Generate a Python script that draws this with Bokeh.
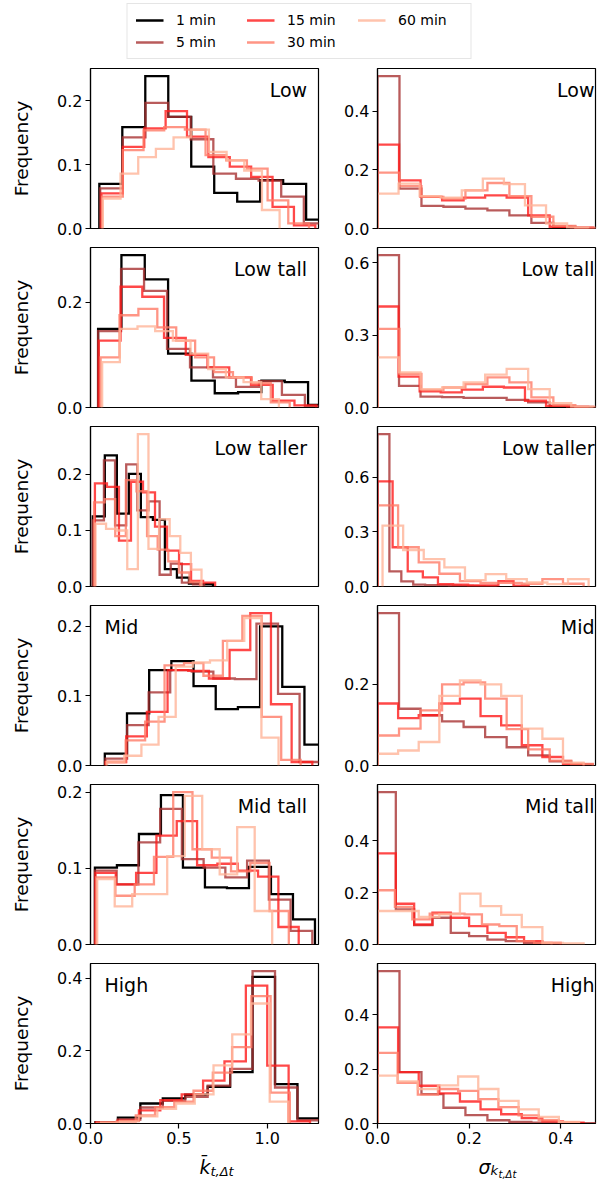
import numpy as np
from bokeh.plotting import figure
from bokeh.layouts import column, row
from bokeh.models import Range1d, FixedTicker, PrintfTickFormatter, Label, Legend, LegendItem
from bokeh.embed import file_html
from bokeh.resources import INLINE

FONT = "DejaVu Sans"
series = ["1 min", "5 min", "15 min", "30 min", "60 min"]
colors = ["#000000", "#a83232", "#ff1a1a", "#ff7a66", "#ffb499"]
alphas = [1.0, 0.8, 0.8, 0.8, 0.8]
panel_names = ["Low", "Low tall", "Low taller", "Mid", "Mid tall", "High"]

# ---- mean k histograms (left column): bin start, bin width, frequencies per series ----
low_k_start = [0.05, 0.055, 0.062, 0.066, 0.07]
low_k_width = [0.13, 0.128, 0.121, 0.117, 0.10]
low_k_freq = [
    [0.070, 0.159, 0.239, 0.175, 0.097, 0.056, 0.042, 0.076, 0.070, 0.014],
    [0.063, 0.143, 0.197, 0.175, 0.140, 0.086, 0.078, 0.075, 0.050, 0.008],
    [0.055, 0.128, 0.157, 0.184, 0.144, 0.112, 0.097, 0.081, 0.034, 0.005],
    [0.050, 0.123, 0.154, 0.159, 0.155, 0.115, 0.107, 0.094, 0.044, 0.008],
    [0.047, 0.086, 0.112, 0.125, 0.143, 0.155, 0.120, 0.107, 0.091, 0.029],
]
lowtall_k_start = [0.043, 0.043, 0.047, 0.057, 0.066]
lowtall_k_width = [0.132, 0.130, 0.123, 0.107, 0.100]
lowtall_k_freq = [
    [0.149, 0.289, 0.243, 0.102, 0.051, 0.027, 0.029, 0.051, 0.048, 0.005],
    [0.145, 0.263, 0.221, 0.111, 0.076, 0.057, 0.039, 0.050, 0.024, 0.003],
    [0.127, 0.229, 0.210, 0.132, 0.100, 0.076, 0.057, 0.043, 0.013, 0.004],
    [0.095, 0.175, 0.187, 0.152, 0.127, 0.095, 0.067, 0.057, 0.046, 0.010],
    [0.086, 0.149, 0.154, 0.145, 0.127, 0.102, 0.073, 0.057, 0.048, 0.016],
]
lowtaller_k_start = [0.013, 0.013, 0.025, 0.020, 0.028]
lowtaller_k_width = [0.068, 0.063, 0.068, 0.060, 0.060]
lowtaller_k_freq = [
    [0.125, 0.234, 0.130, 0.201, 0.124, 0.119, 0.031, 0.016, 0.005, 0.004],
    [0.118, 0.225, 0.109, 0.218, 0.136, 0.152, 0.021, 0.041, 0.007, 0.004],
    [0.184, 0.178, 0.082, 0.187, 0.168, 0.107, 0.064, 0.040, 0.010, 0.007],
    [0.150, 0.156, 0.090, 0.190, 0.170, 0.090, 0.066, 0.045, 0.025, 0.008],
    [0.112, 0.103, 0.100, 0.031, 0.272, 0.067, 0.120, 0.090, 0.060, 0.030],
]
mid_k_start = [0.081, 0.085, 0.085, 0.089, 0.094]
mid_k_width = [0.1255, 0.122, 0.117, 0.110, 0.097]
mid_k_freq = [
    [0.017, 0.075, 0.137, 0.150, 0.114, 0.081, 0.084, 0.200, 0.113, 0.030],
    [0.010, 0.058, 0.105, 0.137, 0.135, 0.125, 0.124, 0.204, 0.103, 0.005],
    [0.005, 0.042, 0.077, 0.137, 0.136, 0.125, 0.166, 0.219, 0.088, 0.005],
    [0.005, 0.036, 0.063, 0.144, 0.147, 0.129, 0.179, 0.215, 0.070, 0.008],
    [0.005, 0.014, 0.030, 0.070, 0.142, 0.148, 0.151, 0.179, 0.212, 0.040],
]
midtall_k_start = [0.025, 0.025, 0.028, 0.032, 0.038]
midtall_k_width = [0.1245, 0.123, 0.115, 0.109, 0.099]
midtall_k_freq = [
    [0.101, 0.104, 0.145, 0.196, 0.101, 0.075, 0.074, 0.102, 0.066, 0.033],
    [0.097, 0.079, 0.134, 0.178, 0.112, 0.101, 0.088, 0.110, 0.059, 0.018],
    [0.094, 0.079, 0.094, 0.143, 0.162, 0.104, 0.106, 0.097, 0.089, 0.023],
    [0.088, 0.064, 0.079, 0.115, 0.200, 0.125, 0.114, 0.096, 0.107, 0.044],
    [0.086, 0.050, 0.066, 0.066, 0.116, 0.195, 0.125, 0.092, 0.154, 0.044],
]
high_k_start = [0.028, 0.028, 0.032, 0.038, 0.060]
high_k_width = [0.127, 0.127, 0.121, 0.109, 0.106]
high_k_freq = [
    [0.004, 0.016, 0.055, 0.069, 0.079, 0.101, 0.141, 0.403, 0.108, 0.014],
    [0.004, 0.011, 0.044, 0.062, 0.073, 0.104, 0.150, 0.419, 0.099, 0.009],
    [0.002, 0.008, 0.036, 0.064, 0.080, 0.118, 0.171, 0.379, 0.159, 0.006],
    [0.002, 0.005, 0.022, 0.045, 0.060, 0.090, 0.140, 0.210, 0.350, 0.085],
    [0.002, 0.006, 0.020, 0.040, 0.055, 0.080, 0.160, 0.245, 0.330, 0.060],
]

# ---- sigma histograms (right column): series 5, 15, 30, 60 min ----
low_s_start = [0.0, 0.0, 0.0, 0.0]
low_s_width = [0.048, 0.047, 0.048, 0.046]
low_s_freq = [
    [0.519, 0.136, 0.077, 0.074, 0.068, 0.062, 0.045, 0.019, 0.006, 0.002],
    [0.286, 0.164, 0.108, 0.096, 0.105, 0.113, 0.105, 0.045, 0.006, 0.003],
    [0.190, 0.144, 0.108, 0.102, 0.130, 0.155, 0.110, 0.040, 0.009, 0.002],
    [0.119, 0.153, 0.110, 0.105, 0.130, 0.170, 0.151, 0.079, 0.017, 0.003],
]
lowtall_s_start = [0.0, 0.0, 0.0, 0.0]
lowtall_s_width = [0.047, 0.046, 0.048, 0.047]
lowtall_s_freq = [
    [0.632, 0.090, 0.045, 0.043, 0.040, 0.040, 0.032, 0.021, 0.007, 0.002],
    [0.419, 0.128, 0.067, 0.063, 0.074, 0.086, 0.083, 0.028, 0.007, 0.002],
    [0.326, 0.139, 0.072, 0.083, 0.097, 0.125, 0.104, 0.042, 0.010, 0.003],
    [0.208, 0.146, 0.076, 0.083, 0.104, 0.136, 0.160, 0.076, 0.018, 0.003],
]
lowtaller_s_start = [0.0, 0.0, 0.0, 0.011]
lowtaller_s_width = [0.026, 0.033, 0.045, 0.045]
lowtaller_s_freq = [
    [0.835, 0.083, 0.028, 0.010, 0.008, 0.006, 0.004, 0.003, 0.002, 0.001],
    [0.576, 0.215, 0.083, 0.050, 0.013, 0.010, 0.006, 0.006, 0.030, 0.005],
    [0.444, 0.215, 0.132, 0.070, 0.030, 0.020, 0.020, 0.015, 0.040, 0.015],
    [0.334, 0.200, 0.150, 0.105, 0.035, 0.068, 0.040, 0.022, 0.013, 0.040],
]
mid_s_start = [0.0, 0.0, 0.0, 0.0]
mid_s_width = [0.047, 0.045, 0.047, 0.045]
mid_s_freq = [
    [0.376, 0.140, 0.124, 0.109, 0.095, 0.070, 0.045, 0.025, 0.010, 0.003],
    [0.153, 0.117, 0.124, 0.153, 0.165, 0.122, 0.099, 0.050, 0.021, 0.004],
    [0.074, 0.091, 0.136, 0.200, 0.205, 0.165, 0.090, 0.040, 0.012, 0.004],
    [0.029, 0.037, 0.058, 0.172, 0.210, 0.200, 0.172, 0.091, 0.066, 0.007],
]
midtall_s_start = [0.0, 0.0, 0.0, 0.0]
midtall_s_width = [0.040, 0.040, 0.038, 0.045]
midtall_s_freq = [
    [0.587, 0.135, 0.075, 0.103, 0.045, 0.032, 0.019, 0.013, 0.006, 0.003],
    [0.351, 0.157, 0.077, 0.123, 0.103, 0.071, 0.045, 0.028, 0.013, 0.006],
    [0.209, 0.145, 0.097, 0.119, 0.119, 0.116, 0.077, 0.071, 0.013, 0.006],
    [0.129, 0.129, 0.106, 0.116, 0.196, 0.148, 0.114, 0.067, 0.006, 0.004],
]
high_s_start = [0.0, 0.0, 0.0, 0.0]
high_s_width = [0.048, 0.045, 0.044, 0.044]
high_s_freq = [
    [0.561, 0.189, 0.108, 0.058, 0.031, 0.012, 0.006, 0.003, 0.002, 0.001],
    [0.354, 0.189, 0.139, 0.111, 0.081, 0.052, 0.034, 0.020, 0.008, 0.003],
    [0.260, 0.150, 0.106, 0.127, 0.120, 0.090, 0.060, 0.030, 0.012, 0.004],
    [0.176, 0.155, 0.127, 0.140, 0.173, 0.127, 0.083, 0.052, 0.024, 0.006],
]

k_ticks_x = [0.0, 0.5, 1.0]
s_ticks_x = [0.0, 0.2, 0.4]
k_ticks_y = [[0, 0.1, 0.2], [0, 0.2], [0, 0.1, 0.2], [0, 0.1, 0.2], [0, 0.1, 0.2], [0, 0.2, 0.4]]
s_ticks_y = [[0, 0.2, 0.4], [0, 0.3, 0.6], [0, 0.3, 0.6], [0, 0.2], [0, 0.2, 0.4], [0, 0.2, 0.4]]
k_label_left = [False, False, False, True, False, True]

k_panels = [
    (low_k_start, low_k_width, low_k_freq),
    (lowtall_k_start, lowtall_k_width, lowtall_k_freq),
    (lowtaller_k_start, lowtaller_k_width, lowtaller_k_freq),
    (mid_k_start, mid_k_width, mid_k_freq),
    (midtall_k_start, midtall_k_width, midtall_k_freq),
    (high_k_start, high_k_width, high_k_freq),
]
s_panels = [
    (low_s_start, low_s_width, low_s_freq),
    (lowtall_s_start, lowtall_s_width, lowtall_s_freq),
    (lowtaller_s_start, lowtaller_s_width, lowtaller_s_freq),
    (mid_s_start, mid_s_width, mid_s_freq),
    (midtall_s_start, midtall_s_width, midtall_s_freq),
    (high_s_start, high_s_width, high_s_freq),
]


def outline(start, width, freq):
    edges = start + width * np.arange(len(freq) + 1)
    xs = np.repeat(edges, 2)
    ys = np.concatenate([[0.0], np.repeat(freq, 2), [0.0]])
    return xs, ys


def style_axes(p):
    p.xgrid.visible = False
    p.ygrid.visible = False
    p.outline_line_color = "black"
    p.outline_line_width = 1.2
    for ax in p.axis:
        ax.axis_line_width = 1.2
        ax.axis_line_color = "black"
        ax.major_tick_out = 5
        ax.major_tick_in = 0
        ax.minor_tick_out = 0
        ax.minor_tick_in = 0
        ax.major_tick_line_width = 1.2
        ax.major_label_text_font = FONT
        ax.major_label_text_font_size = "16px"
        ax.major_label_text_color = "black"
        ax.formatter = PrintfTickFormatter(format="%.1f")
        ax.major_label_standoff = 3


def make_panel(side, i):
    bottom = i == 5
    if side == "k":
        start, width, freq = k_panels[i]
        names, cols, alps = series, colors, alphas
        w, mbl, mbr, xr, xt, yt = 338, 90, 20, (0, 1.29), k_ticks_x, k_ticks_y[i]
    else:
        start, width, freq = s_panels[i]
        names, cols, alps = series[1:], colors[1:], alphas[1:]
        w, mbl, mbr, xr, xt, yt = 259, 39, 2, (0, 0.476), s_ticks_x, s_ticks_y[i]
    h = 192 if bottom else 179
    mbb = 30 if bottom else 17
    ymax = 1.05 * max(max(f) for f in freq)
    p = figure(width=w, height=h, x_range=Range1d(*xr), y_range=Range1d(0, ymax),
               output_backend="svg", toolbar_location=None,
               min_border_left=mbl, min_border_right=mbr, min_border_top=2, min_border_bottom=mbb)
    for s0, bw, f, c, a in zip(start, width, freq, cols, alps):
        xs, ys = outline(s0, bw, f)
        p.line(xs, ys, line_color=c, line_alpha=a, line_width=2.3, line_join="miter")
    style_axes(p)
    p.xaxis.ticker = FixedTicker(ticks=xt)
    p.yaxis.ticker = FixedTicker(ticks=yt)
    if not bottom:
        p.xaxis.visible = False
    if side == "k":
        p.yaxis.axis_label = "Frequency"
        p.yaxis.axis_label_text_font = FONT
        p.yaxis.axis_label_text_font_size = "18.5px"
        p.yaxis.axis_label_text_font_style = "normal"
        p.yaxis.axis_label_text_color = "black"
        p.yaxis.axis_label_standoff = 22
    fw = w - mbl - mbr
    if side == "k" and k_label_left[i]:
        lab = Label(x=14, y=150, x_units="screen", y_units="screen", text=panel_names[i],
                    text_align="left", text_baseline="top")
    elif side == "k":
        lab = Label(x=fw * 0.95, y=150, x_units="screen", y_units="screen", text=panel_names[i],
                    text_align="right", text_baseline="top")
    else:
        lab = Label(x=fw - 1, y=150, x_units="screen", y_units="screen", text=panel_names[i],
                    text_align="right", text_baseline="top")
    lab.text_font = FONT
    lab.text_font_size = "19px"
    lab.text_color = "black"
    p.add_layout(lab)
    return p


# ---- legend figure ----
lf = figure(width=597, height=66, x_range=Range1d(0, 1), y_range=Range1d(0, 1),
            output_backend="svg", toolbar_location=None,
            min_border_left=0, min_border_right=0, min_border_top=0, min_border_bottom=0)
lf.axis.visible = False
lf.xgrid.visible = False
lf.ygrid.visible = False
lf.outline_line_color = None
items = []
for name, c, a in zip(series, colors, alphas):
    r = lf.line([5, 6], [5, 6], line_color=c, line_alpha=a, line_width=2.3)
    items.append(LegendItem(label=name, renderers=[r]))
leg = Legend(items=items, location="top_center", ncols=3, orientation="vertical")
leg.margin = 3
leg.padding = 8
leg.spacing = 6
leg.glyph_width = 28
leg.glyph_height = 16
leg.label_standoff = 13
leg.label_width = 64
leg.label_text_font = FONT
leg.label_text_font_size = "14px"
leg.label_text_color = "black"
leg.border_line_color = "#cccccc"
leg.border_line_width = 1
leg.background_fill_alpha = 0.8
lf.add_layout(leg)

# ---- x-axis label strip (math-style labels as real text) ----
af = figure(width=597, height=40, x_range=Range1d(0, 1), y_range=Range1d(0, 1),
            output_backend="svg", toolbar_location=None,
            min_border_left=0, min_border_right=0, min_border_top=0, min_border_bottom=0)
af.axis.visible = False
af.xgrid.visible = False
af.ygrid.visible = False
af.outline_line_color = None
for x, y, t, fs in [(199, 27, "k\u0304", "19px"), (210, 22, "t,\u0394t", "13px"),
                    (478, 27, "\u03c3", "19px"), (490, 23, "k", "13px"), (498, 19, "t,\u0394t", "10px")]:
    af.add_layout(Label(x=x, y=y, x_units="screen", y_units="screen", text=t,
                        text_font=FONT, text_font_size=fs, text_font_style="italic",
                        text_color="black", text_baseline="alphabetic"))

rows = [lf]
for i in range(6):
    rows.append(row(make_panel("k", i), make_panel("s", i)))
rows.append(af)
layout = column(*rows)

open("out.html", "w").write(file_html(layout, INLINE))
